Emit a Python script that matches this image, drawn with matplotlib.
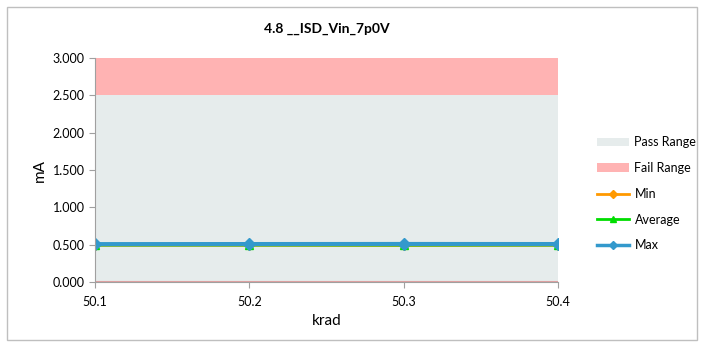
import matplotlib
matplotlib.use('Agg')
import matplotlib.pyplot as plt
from matplotlib.patches import Rectangle
from matplotlib.lines import Line2D
from matplotlib.patches import Patch

krad = [50.1, 50.2, 50.3, 50.4]
min_vals = [0.492, 0.492, 0.490, 0.492]
avg_vals = [0.497, 0.497, 0.496, 0.497]
max_vals = [0.508, 0.509, 0.510, 0.509]
pass_lo, pass_hi = 0.0, 2.5
fail_hi = 3.0
yticks = [0.0, 0.5, 1.0, 1.5, 2.0, 2.5, 3.0]

plt.rcParams['font.family'] = ['Lato', 'DejaVu Sans']

fig = plt.figure(figsize=(7.04, 3.47), dpi=100)
ax = fig.add_axes([0.135, 0.187, 0.658, 0.646])

# outer frame
fig.patches.append(Rectangle((0.01, 0.02), 0.98, 0.96, transform=fig.transFigure,
                             fill=False, edgecolor='#BFBFBF', linewidth=1))

ax.fill_between(krad, pass_lo, pass_hi, color='#E6ECEC', linewidth=0)
ax.fill_between(krad, pass_hi, fail_hi, color='#FFB3B3', linewidth=0)
ax.plot(krad, [pass_lo] * len(krad), color='#E0A0A0', linewidth=1.5)

ax.plot(krad, min_vals, color='#FF9900', linewidth=2, marker='D', markersize=5)
ax.plot(krad, avg_vals, color='#00DD00', linewidth=2, marker='^', markersize=6)
ax.plot(krad, max_vals, color='#3399CC', linewidth=3, marker='D', markersize=6)

ax.set_xlim(krad[0], krad[-1])
ax.set_ylim(0, 3.0)
ax.set_xticks(krad)
ax.set_xticklabels([f"{k:.1f}" for k in krad])
ax.set_yticks(yticks)
ax.set_yticklabels([f"{v:.3f}" for v in yticks])
ax.tick_params(labelsize=9, color='#A0A0A0', length=4)
ax.tick_params(axis='x', pad=6)
for s in ['top', 'right']:
    ax.spines[s].set_visible(False)
for s in ['left', 'bottom']:
    ax.spines[s].set_color('#A0A0A0')

ax.set_xlabel("krad", fontsize=11)
ax.set_ylabel("mA", fontsize=11)
ax.set_title("4.8 __ISD_Vin_7p0V", fontsize=10, fontweight='bold', pad=18)

handles = [
    Patch(facecolor='#E6ECEC', label='Pass Range'),
    Patch(facecolor='#FFB3B3', label='Fail Range'),
    Line2D([], [], color='#FF9900', linewidth=2, marker='D', markersize=4, label='Min'),
    Line2D([], [], color='#00DD00', linewidth=2, marker='^', markersize=5, label='Average'),
    Line2D([], [], color='#3399CC', linewidth=2.5, marker='D', markersize=4, label='Max'),
]
fig.legend(handles=handles, loc='center left', bbox_to_anchor=(0.832, 0.441),
           frameon=False, fontsize=9, labelspacing=1.1, handlelength=2.6,
           handletextpad=0.4)

plt.savefig("out.png", dpi=100)
